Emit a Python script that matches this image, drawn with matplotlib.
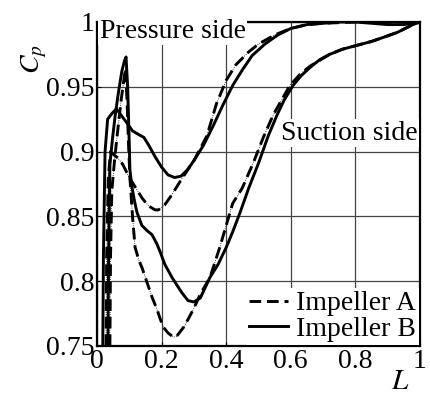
import matplotlib
matplotlib.use("Agg")
import matplotlib.pyplot as plt

plt.rcParams['font.family'] = ['Liberation Serif', 'DejaVu Serif']
plt.rcParams['mathtext.fontset'] = 'stix'

# Impeller A, pressure side
a_ps_L = [0.028, 0.03, 0.035, 0.042, 0.05, 0.065, 0.08, 0.10, 0.12, 0.14, 0.16, 0.18,
          0.19, 0.21, 0.23, 0.26, 0.30, 0.34, 0.37, 0.40, 0.43, 0.47, 0.50, 0.55,
          0.60, 0.65, 0.70, 0.80, 0.90, 1.0]
a_ps_C = [0.75, 0.82, 0.88, 0.90, 0.898, 0.895, 0.89, 0.88, 0.872, 0.864, 0.858, 0.855,
          0.855, 0.859, 0.866, 0.878, 0.893, 0.912, 0.937, 0.955, 0.967, 0.977, 0.983, 0.99,
          0.995, 0.998, 0.999, 1.0, 1.0, 1.0]

# Impeller B, pressure side
b_ps_L = [0.018, 0.02, 0.025, 0.033, 0.045, 0.06, 0.075, 0.09, 0.11, 0.13, 0.145, 0.16,
          0.18, 0.20, 0.22, 0.24, 0.26, 0.28, 0.30, 0.33, 0.36, 0.39, 0.42, 0.45,
          0.48, 0.52, 0.56, 0.60, 0.65, 0.70, 0.75, 0.80, 0.85, 0.90, 0.95, 1.0]
b_ps_C = [0.75, 0.82, 0.90, 0.925, 0.929, 0.933, 0.928, 0.923, 0.916, 0.913, 0.911, 0.905,
          0.896, 0.888, 0.882, 0.88, 0.881, 0.886, 0.893, 0.905, 0.92, 0.936, 0.951, 0.963,
          0.974, 0.983, 0.99, 0.995, 0.998, 0.999, 1.0, 1.0, 0.999, 0.998, 0.998, 1.0]

# Impeller A, suction side
a_ss_L = [0.04, 0.042, 0.046, 0.055, 0.065, 0.075, 0.083, 0.088, 0.093, 0.097, 0.102,
          0.11, 0.118, 0.13, 0.14, 0.155, 0.17, 0.186, 0.204, 0.22, 0.236, 0.245, 0.27,
          0.298, 0.32, 0.35, 0.38, 0.42, 0.45, 0.485, 0.515, 0.545, 0.597, 0.63, 0.66,
          0.72, 0.76, 0.805, 0.85, 0.885, 0.93, 0.978, 1.0]
a_ss_C = [0.75, 0.82, 0.87, 0.895, 0.918, 0.94, 0.955, 0.964, 0.94, 0.91, 0.88,
          0.85, 0.826, 0.816, 0.81, 0.799, 0.788, 0.778, 0.765, 0.76, 0.757, 0.757, 0.765,
          0.778, 0.79, 0.803, 0.826, 0.86, 0.872, 0.892, 0.911, 0.928, 0.951, 0.96, 0.966,
          0.975, 0.979, 0.982, 0.985, 0.988, 0.992, 0.998, 1.0]

# Impeller B, suction side
b_ss_L = [0.034, 0.036, 0.04, 0.048, 0.056, 0.066, 0.077, 0.085, 0.09, 0.095, 0.099,
          0.102, 0.108, 0.116, 0.124, 0.139, 0.155, 0.17, 0.185, 0.195, 0.21, 0.232,
          0.25, 0.263, 0.282, 0.30, 0.32, 0.35, 0.375, 0.40, 0.42, 0.443, 0.47, 0.50,
          0.53, 0.557, 0.58, 0.607, 0.63, 0.66, 0.69, 0.72, 0.76, 0.805, 0.85, 0.885,
          0.93, 0.978, 1.0]
b_ss_C = [0.75, 0.82, 0.89, 0.91, 0.927, 0.945, 0.962, 0.970, 0.973, 0.95, 0.915,
          0.886, 0.873, 0.862, 0.853, 0.843, 0.839, 0.836, 0.829, 0.823, 0.813, 0.803,
          0.796, 0.791, 0.785, 0.784, 0.787, 0.803, 0.813, 0.826, 0.838, 0.853, 0.872, 0.891,
          0.912, 0.928, 0.94, 0.951, 0.958, 0.965, 0.971, 0.975, 0.979, 0.982, 0.985, 0.988,
          0.992, 0.998, 1.0]

x_ticks = [0, 0.2, 0.4, 0.6, 0.8, 1]
x_labels = ['0', '0.2', '0.4', '0.6', '0.8', '1']
y_ticks = [0.75, 0.8, 0.85, 0.9, 0.95, 1]
y_labels = ['0.75', '0.8', '0.85', '0.9', '0.95', '1']

fig = plt.figure(figsize=(4.31, 3.97), dpi=100)
ax = fig.add_axes([0.225, 0.1285, 0.7495, 0.8161])

dash = (0, (4, 2))
for L, C in [(a_ps_L, a_ps_C), (a_ss_L, a_ss_C)]:
    ax.plot(L, C, color='black', lw=0.6, ls=':')
    lineA, = ax.plot(L, C, color='black', lw=2.1, ls=dash)
for L, C in [(b_ps_L, b_ps_C), (b_ss_L, b_ss_C)]:
    lineB, = ax.plot(L, C, color='black', lw=2.1)

ax.set_xlim(0, 1)
ax.set_ylim(0.75, 1)
ax.set_xticks(x_ticks)
ax.set_xticklabels(x_labels)
ax.set_yticks(y_ticks)
ax.set_yticklabels(y_labels)
ax.tick_params(labelsize=20, direction='in', length=3, pad=2)
ax.grid(True, color='#444444', lw=0.9)
for s in ax.spines.values():
    s.set_linewidth(1.6)

ax.set_ylabel('$C_p$', fontsize=20, labelpad=0)
ax.yaxis.set_label_coords(-0.15, 0.885)
ax.set_xlabel('$L$', fontsize=21)
ax.xaxis.set_label_coords(0.94, -0.07)

bbox = dict(facecolor='white', edgecolor='none', pad=1)
ax.text(0.008, 0.972, 'Pressure side', fontsize=20, va='center', ha='left',
        bbox=bbox, zorder=5, transform=ax.transAxes)
ax.text(0.57, 0.657, 'Suction side', fontsize=20, va='center', ha='left',
        bbox=bbox, zorder=5, transform=ax.transAxes)

leg = ax.legend([lineA, lineB], ['Impeller A', 'Impeller B'], loc='lower right',
                bbox_to_anchor=(1, 0), borderaxespad=0.05, fontsize=20,
                frameon=True, fancybox=False, framealpha=1, edgecolor='none',
                handlelength=1.4, handletextpad=0.3, labelspacing=0.0,
                borderpad=0.1)

fig.savefig('out.png', dpi=100)
